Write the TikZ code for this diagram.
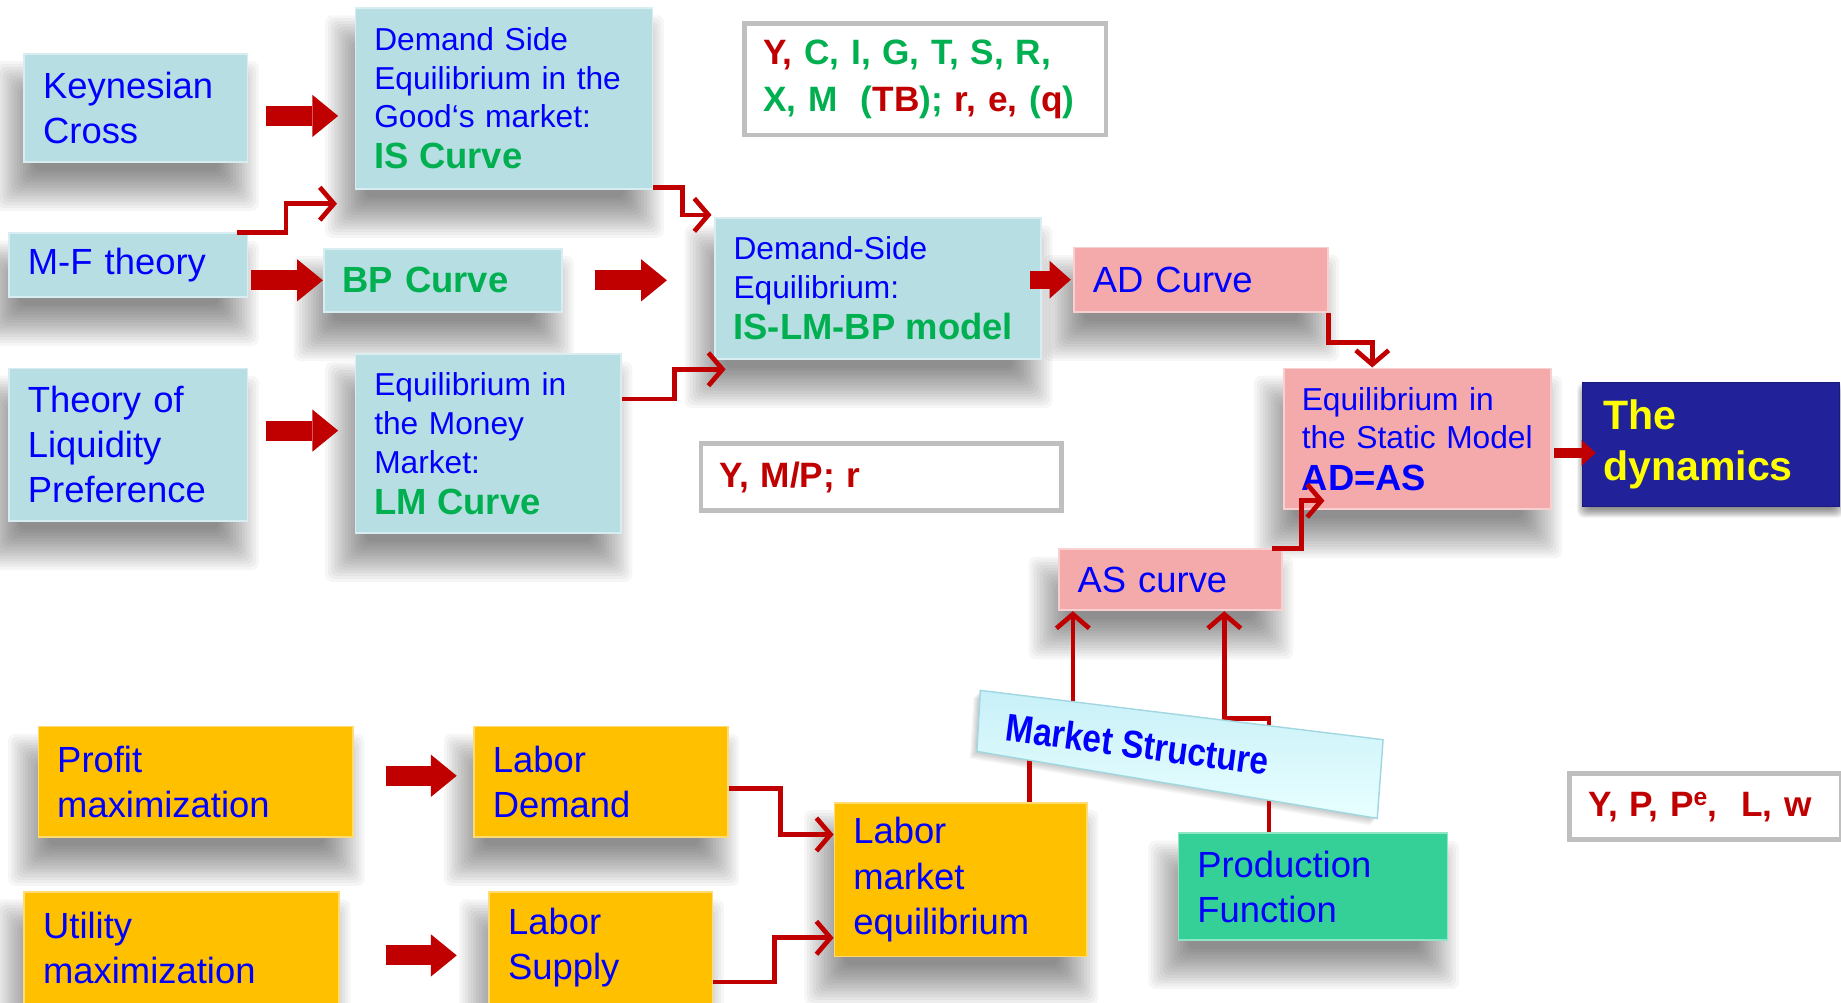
\documentclass[tikz,border=0pt]{standalone}
\usepackage{fontspec}
\setmainfont{Liberation Sans}
\usepackage{graphicx}
\usetikzlibrary{arrows.meta,calc}

\definecolor{txtblue}{RGB}{0,0,255}
\definecolor{grn}{RGB}{0,176,80}
\definecolor{dred}{RGB}{192,0,0}
\definecolor{boxblue}{RGB}{183,222,226}
\definecolor{boxpink}{RGB}{244,170,170}
\definecolor{boxorange}{RGB}{255,192,0}
\definecolor{boxgreen}{RGB}{52,208,152}
\definecolor{navy}{RGB}{33,33,153}
\definecolor{ylw}{RGB}{255,255,0}
\definecolor{framegray}{RGB}{191,191,191}
\definecolor{mstop}{RGB}{200,240,248}
\definecolor{msbot}{RGB}{232,255,255}
\definecolor{msedge}{RGB}{160,215,225}

\newcommand\fA{\fontsize{31}{38.5}\selectfont}
\newcommand\fB{\fontsize{27}{33}\selectfont}
\newcommand\hl[1]{{\bfseries\fontsize{31}{35}\selectfont\color{grn}#1}}

% soft drop shadow built from 15 stacked translucent rectangles
% #1 node, #2 x offset, #3 y offset (canvas), #4 spread in pt
\newcommand\softshadow[4]{%
  \foreach \i in {0,...,14}{%
    \pgfmathsetmacro\s{-#4+\i*#4/7}%
    \fill[black, opacity=0.037, rounded corners=6pt]
      ([xshift={#2-(\s pt)}, yshift={#3+(\s pt)}]#1.north west) rectangle
      ([xshift={#2+(\s pt)}, yshift={#3-(\s pt)}]#1.south east);}}

\pgfdeclarelayer{paper}
\pgfdeclarelayer{shadowlayer}
\pgfsetlayers{paper,shadowlayer,main}

\begin{document}
\begin{tikzpicture}[x=1pt,y=-1pt,
  bx/.style={rectangle, anchor=north west, fill=#1, draw=#1!55!white, line width=1.5pt,
    inner xsep=16pt, inner ysep=0pt, align=left, text=txtblue, font=\fA},
  varbox/.style={rectangle, anchor=north west, draw=framegray, fill=white, line width=4pt,
    inner xsep=16pt, inner ysep=0pt, align=left, font=\bfseries\fontsize{30}{40}\selectfont, text=dred},
  dynbox/.style={rectangle, anchor=north west, fill=navy, draw=navy!80!black, line width=1pt,
    inner xsep=18pt, inner ysep=0pt, align=left, text=ylw, font=\bfseries\fontsize{35}{44}\selectfont},
  blk/.style={draw=dred, line width=17pt, -{Triangle[length=22pt,width=36pt,line width=0pt]}},
  blksmall/.style={draw=dred, line width=15pt, -{Triangle[length=18pt,width=32pt,line width=0pt]}},
  blkthin/.style={draw=dred, line width=8pt, -{Triangle[length=12pt,width=22pt,line width=0pt]}},
  elb/.style={draw=dred, line width=4pt, -{Straight Barb[length=12pt,width=28pt]}},
]
\useasboundingbox (0,0) rectangle (1568,854);
\begin{pgfonlayer}{paper}
\fill[white] (0,0) rectangle (1568,854);
\end{pgfonlayer}

% --- upper row: demand side ---
\node[bx=boxblue, minimum width=253pt, text width=221pt, minimum height=154pt, font=\fB] (ds) at (302,6)
  {Demand Side\\Equilibrium in the\\Good‘s market:\\[2pt]\hl{IS Curve}};
\node[bx=boxblue, minimum width=190pt, text width=158pt, minimum height=92pt] (kc) at (20,45)
  {Keynesian\\Cross};
\node[varbox, minimum width=308pt, text width=276pt, minimum height=95pt] (v1) at (632,18)
  {Y, {\color{grn}C, I, G, T, S, R,}\\
   {\color{grn}X, M\ \ (}TB{\color{grn});} r, e, {\color{grn}(}q{\color{grn})}};
\node[bx=boxblue, minimum width=278pt, text width=246pt, minimum height=120pt, font=\fB] (islm) at (608,185)
  {Demand-Side\\Equilibrium:\\[2pt]\hl{IS-LM-BP model}};
\node[bx=boxblue, minimum width=203pt, text width=171pt, minimum height=54pt] (mf) at (7,198)
  {M-F theory};
\node[bx=boxpink, minimum width=216pt, text width=184pt, minimum height=55pt] (ad) at (914,210)
  {AD Curve};
\node[bx=boxblue, minimum width=203pt, text width=171pt, minimum height=54pt] (bp) at (275,211)
  {\hl{BP Curve}};
\node[bx=boxblue, minimum width=226pt, text width=194pt, minimum height=152pt, font=\fB] (lm) at (302,301)
  {Equilibrium in\\the Money\\Market:\\[2pt]\hl{LM Curve}};
\node[bx=boxblue, minimum width=203pt, text width=171pt, minimum height=130pt] (tlp) at (7,313)
  {Theory of\\Liquidity\\Preference};
\node[bx=boxpink, minimum width=227pt, text width=197pt, inner xsep=15pt, minimum height=120pt, font=\fB] (st) at (1093,313)
  {Equilibrium in\\the Static Model\\[2pt]{\bfseries\fontsize{31}{35}\selectfont AD=AS}};
\node[dynbox, minimum width=219pt, text width=183pt, minimum height=106pt] (dyn) at (1347,325)
  {The\\dynamics};
\node[varbox, minimum width=307pt, text width=275pt, minimum height=57pt] (v2) at (595,376)
  {Y, M/P; r};
\node[bx=boxpink, minimum width=190pt, text width=158pt, minimum height=52pt] (as) at (901,467)
  {AS curve};

% --- lower row: supply side ---
\node[bx=boxorange, minimum width=268pt, text width=236pt, minimum height=94pt] (pm) at (32,618)
  {Profit\\maximization};
\node[bx=boxorange, minimum width=216pt, text width=184pt, minimum height=94pt] (ld) at (403,618)
  {Labor\\Demand};
\node[varbox, minimum width=231pt, text width=199pt, minimum height=56pt] (v3) at (1335,657)
  {Y, P, P\textsuperscript{e},\ \ L, w};
\node[bx=boxorange, minimum width=215pt, text width=183pt, minimum height=131pt] (lme) at (710,683)
  {Labor\\market\\equilibrium};
\node[bx=boxgreen, minimum width=229pt, text width=197pt, minimum height=91pt] (pf) at (1003,709)
  {Production\\Function};
\node[bx=boxorange, minimum width=268pt, text width=236pt, minimum height=95pt] (um) at (20,759)
  {Utility\\maximization};
\node[bx=boxorange, minimum width=190pt, text width=158pt, minimum height=95pt] (ls) at (416,759)
  {Labor\\Supply};

% --- shadows under the coloured boxes ---
\begin{pgfonlayer}{shadowlayer}
\foreach \n in {ds,kc,islm,mf,ad,bp,lm,tlp,st,as,pm,ld,lme,pf,um,ls}{\softshadow{\n}{-8pt}{-24pt}{17}}
\softshadow{dyn}{0pt}{-5pt}{4}
\foreach \k in {1,...,6}{%
  \fill[black, opacity=0.035] ([shift={(-\k,\k)}]835,588) -- ([shift={(-\k,\k)}]1178,630)
    -- ([shift={(-\k,\k)}]1173,697) -- ([shift={(-\k,\k)}]832,640) -- cycle;}
\end{pgfonlayer}

% --- block arrows ---
\draw[blk, shorten <=15pt, shorten >=14pt] ([yshift=-7pt]kc.east) -- ([yshift=-7pt]kc.east -| ds.west);
\draw[blk, shorten <=2pt] (mf.east |- bp.west) -- (bp.west);
\draw[blk, shorten <=27pt, shorten >=40pt] (bp.east) -- (bp.east -| islm.west);
\draw[blk, shorten <=15pt, shorten >=14pt] ([yshift=12pt]tlp.east) -- ([yshift=12pt]tlp.east -| lm.west);
\draw[blksmall, shorten <=-10pt, shorten >=2pt] (ad.west -| islm.east) -- (ad.west);
\draw[blkthin, shorten <=2pt, shorten >=-12pt] ([yshift=-12pt]st.east) -- ([yshift=-12pt]st.east -| dyn.west);
\draw[blk, shorten <=27pt, shorten >=14pt] ([yshift=5pt]pm.east) -- ([yshift=5pt]pm.east -| ld.west);
\draw[blk, shorten <=39pt, shorten >=27pt] ([yshift=-6.5pt]um.east) -- ([yshift=-6.5pt]um.east -| ls.west);

% --- elbow connectors ---
\draw[elb] ([xshift=-10pt]mf.north east) -- ++(42,0) |- ([xshift=-15pt,yshift=-12pt]ds.south west);
\draw[elb] ([yshift=2pt]ds.south east) -- ++(25,0) |- ([xshift=-2pt,yshift=2pt]islm.north west);
\draw[elb] ([yshift=38pt]lm.east) -- ++(45,0) |- ([xshift=10pt,yshift=-8pt]islm.south west);
\draw[elb] (ad.south east) -- ++(0,25) -| ([xshift=-38.5pt]st.north);
\draw[elb] ([xshift=-9pt]as.north east) -- ++(25,0) |- ([xshift=35pt,yshift=8pt]st.south west);
\draw[elb] ([yshift=-6pt]ld.east) -- ++(44,0) |- ([yshift=38.5pt]lme.west);
\draw[elb] ([yshift=-29pt]ls.east) -- ++(52,0) |- ([yshift=-49.5pt]lme.west);
\draw[elb] ([xshift=58.5pt]lme.north) -- ++(0,-58) -| ([xshift=-83pt]as.south);
\draw[elb] ([xshift=-37.5pt]pf.north) -- ++(0,-97) -| ([xshift=46pt]as.south);

% --- tilted "Market Structure" banner, over the two vertical links ---
\shade[top color=mstop, bottom color=msbot, draw=msedge, line width=1.2pt]
  (835,588) -- (1178,630) -- (1173,697) -- (832,640) -- cycle;
\node[rotate=-7.5, text=txtblue, font=\bfseries\fontsize{33}{34}\selectfont, inner sep=0pt] (mstxt) at (969,634)
  {\scalebox{0.86}[1]{Market Structure}};
\end{tikzpicture}
\end{document}
